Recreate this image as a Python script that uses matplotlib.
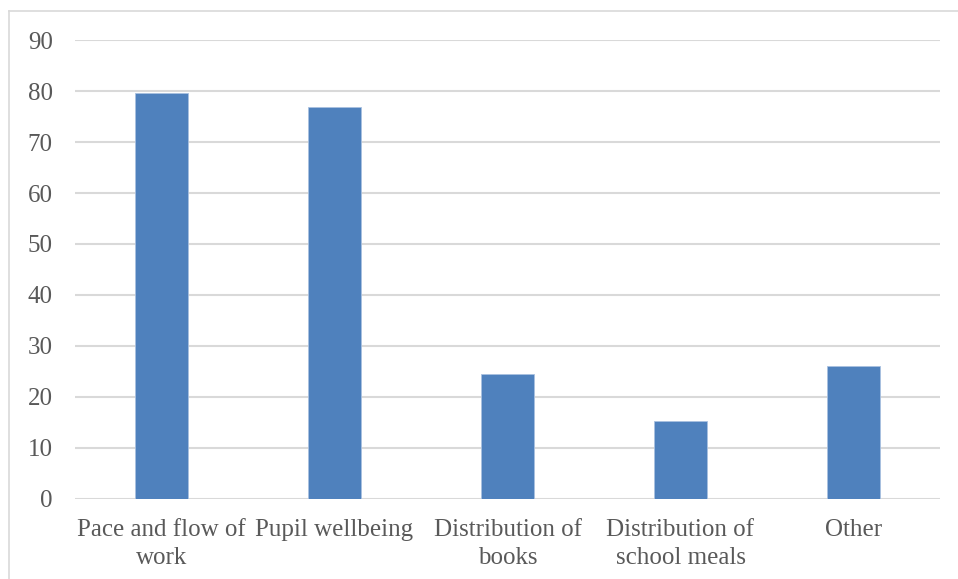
import numpy as np
import matplotlib
matplotlib.use('Agg')
import matplotlib.pyplot as plt
from matplotlib.lines import Line2D

# Survey responses per area
categories = ['Pace and flow of\nwork', 'Pupil wellbeing', 'Distribution of\nbooks',
              'Distribution of\nschool meals', 'Other']
values = [79.7, 76.9, 24.5, 15.2, 26.0]
yticks = np.arange(0, 100, 10)

text_col = '#595959'
grid_col = '#D9D9D9'
bar_col = '#4F81BD'

plt.rcParams['font.family'] = ['Liberation Serif', 'DejaVu Serif']

fig = plt.figure(figsize=(9.58, 5.79), dpi=100)
ax = fig.add_axes([75/958, 1 - 498.5/579, 865/958, (498.5 - 40.4)/579])

x = np.arange(len(categories))
ax.bar(x, values, width=0.31, color=bar_col, edgecolor='#A9C1E0', linewidth=0.6, zorder=3)

ax.set_xlim(-0.5, len(categories) - 0.5)
ax.set_ylim(0, 90)
ax.set_yticks(yticks)
ax.set_yticklabels([str(v) for v in yticks], fontsize=18, color=text_col)
ax.set_xticks(x)
ax.set_xticklabels(categories, fontsize=18, color=text_col, linespacing=1.33)
ax.tick_params(length=0, axis='y', pad=16)
ax.tick_params(length=0, axis='x', pad=15)
ax.yaxis.grid(True, color=grid_col, linewidth=1.5, zorder=0)
for s in ax.spines.values():
    s.set_visible(False)

# Outer chart frame (left and top edges)
fig.add_artist(Line2D([9/958, 9/958], [0, 1 - 11/579], color='#D9D9D9', linewidth=1.2))
fig.add_artist(Line2D([9/958, 1], [1 - 11/579, 1 - 11/579], color='#D9D9D9', linewidth=1.2))

fig.savefig('out.png', dpi=100)
